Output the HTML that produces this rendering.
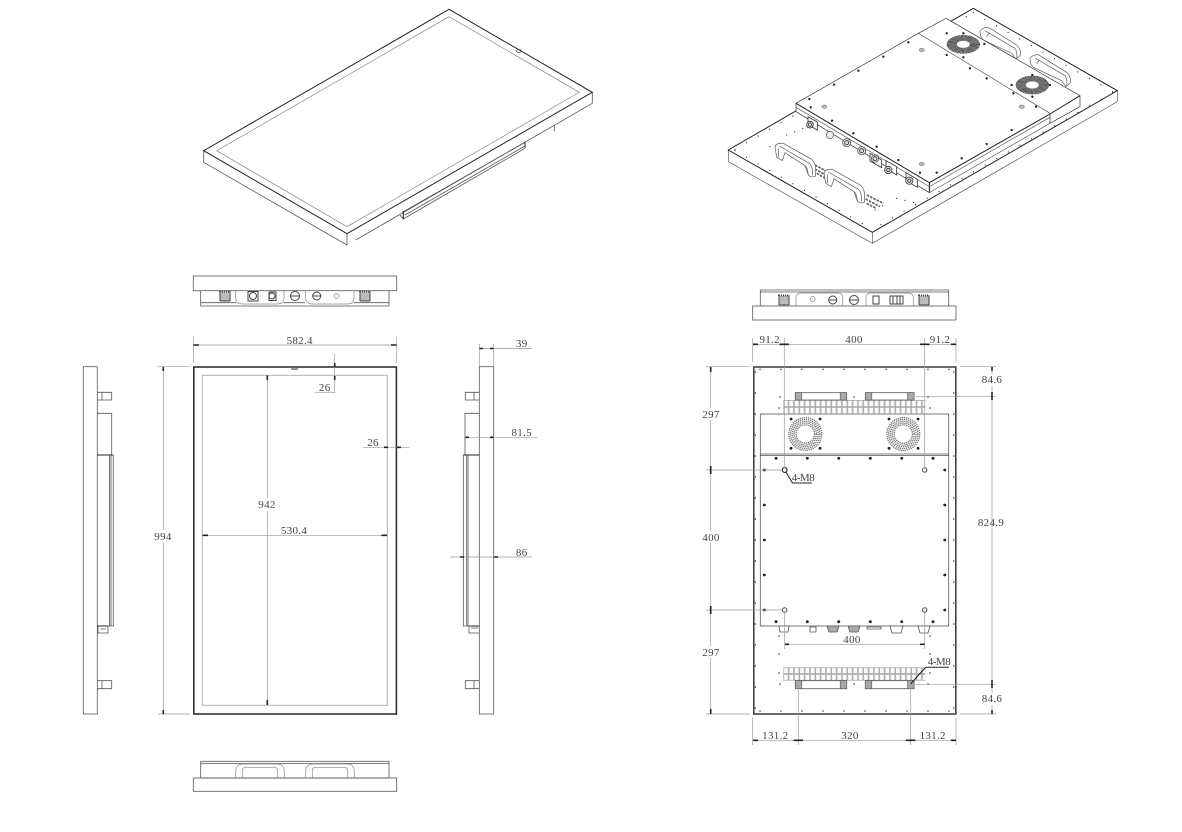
<!DOCTYPE html>
<html><head><meta charset="utf-8"><style>
html,body{margin:0;padding:0;background:#fff}
svg{display:block}
text{font-family:"Liberation Serif",serif;font-size:11px;fill:#444;text-anchor:middle;letter-spacing:.3px}
.o{fill:none;stroke:#555;stroke-width:.8}
.k{fill:none;stroke:#222;stroke-width:1}
.g{fill:none;stroke:#888;stroke-width:.7}
.d{fill:none;stroke:#999;stroke-width:.7}
.a{fill:none;stroke:#222;stroke-width:1.6}
.s{fill:none;stroke:#222;stroke-width:2.8;stroke-linecap:round}
.e{fill:none;stroke:#444;stroke-width:1.6;stroke-linecap:round}
.i{fill:none;stroke:#555;stroke-width:2}
.ik{fill:none;stroke:#222;stroke-width:3}
.id{fill:none;stroke:#333;stroke-width:3.8;stroke-linecap:round}
.h{fill:#fff;stroke:#555;stroke-width:2}
.m{fill:none;stroke:#777;stroke-width:1.3;stroke-dasharray:1.3 .8}
</style></head><body>
<svg width="1182" height="832" viewBox="0 0 1182 832" xmlns="http://www.w3.org/2000/svg">
<defs>
<pattern id="v1" x="783.3" y="400" width="5.33" height="7" patternUnits="userSpaceOnUse"><rect x=".4" y=".4" width="4.5" height="6.2" fill="#fff" stroke="#aaa" stroke-width=".8"/></pattern>
<pattern id="v2" x="783.3" y="667.3" width="5.33" height="6.7" patternUnits="userSpaceOnUse"><rect x=".4" y=".4" width="4.5" height="5.9" fill="#fff" stroke="#aaa" stroke-width=".8"/></pattern>
<g id="hl"><path class="h" d="M165 440Q170 428 190 430L275 478Q287 488 287 510V528Q275 535 265 525L255 497L195 458L187 482L170 472Z"/><path class="i" d="M178 438L268 490Q278 498 278 526M175 445V472M255 497Q262 500 265 525"/></g>
<g id="hu"><path class="h" d="M780 95Q785 82 805 82L890 135Q902 145 902 165L888 178L875 160L790 120Q780 112 780 95Z"/><path class="i" d="M795 92L885 145Q893 155 890 176M800 110L808 98"/></g>
</defs>
<rect width="1182" height="832" fill="#fff"/>

<!-- ISO LEFT -->
<path class="o" d="M203.7 150.7V162.3L347 245V233.7M592.3 92.3V103.3L355.7 240M554.3 125.3V131.3"/>
<path class="o" d="M525 148.3L403.3 219V211.7L525 142.3M525 146L405 215M400 215L403.3 219"/>
<path class="k" d="M525 142V148M403.3 211V219"/>
<path class="k" d="M449 9.3L592.3 92.3L347 233.7L203.7 150.7Z"/>
<path class="g" d="M449 16.7L579.3 92.3L347 226.7L216.7 150.7Z"/>
<ellipse class="o" cx="519" cy="51" rx="2.5" ry="1.5"/>

<!-- ISO RIGHT -->
<g transform="translate(720 0) scale(.33333)">
<path class="i" d="M25 450V485L457 730V697M1192 272V305L457 730"/>
<path class="ik" d="M760 25L1192 272L457 697L25 450Z"/>
<path class="id" stroke-dasharray="0 40" d="M45 452L457 688M45 448L760 38M760 38L1178 275M1178 278L457 688"/>
<use href="#hu"/><use href="#hu" transform="translate(150 82)"/>
<path stroke="#666" stroke-width="5" stroke-dasharray="8 3" fill="none" d="M285 495L345 527M285 507L338 537M290 520L325 540M440 585L490 610M437 597L480 620M440 610L468 625"/>
<use href="#hl"/><use href="#hl" transform="translate(147 78)"/>
<path class="id" stroke-dasharray="0 26" d="M150 440L165 455M200 405L250 385M530 595L590 610M465 630L500 610"/>
<path fill="#fff" stroke="#333" stroke-width="2" d="M678 55L1080 287V320L990 370V342L628 548V578L228 335V310L595 100Z"/>
<path class="ik" d="M228 310L628 548L990 342L1080 287M628 548V578"/>
<path class="i" d="M228 322L628 560L990 352M595 100L990 340V370M228 335L628 578L990 370"/>
<g transform="translate(730 133) scale(1 .56)"><circle r="35" fill="none" stroke="#333" stroke-width="30" stroke-dasharray="2.5 1"/><circle r="20" fill="#fff" stroke="#666" stroke-width="1.5"/></g>
<g transform="translate(937 255) scale(1 .56)"><circle r="35" fill="none" stroke="#333" stroke-width="30" stroke-dasharray="2.5 1"/><circle r="20" fill="#fff" stroke="#666" stroke-width="1.5"/></g>
<path style="fill:none;stroke:#222;stroke-width:7;stroke-linecap:round" d="M565 127h.1M490 170h.1M415 212h.1M342 254h.1M268 297h.1M730 100h.1M793 132h.1M680 165h.1M730 172h.1M750 205h.1M800 235h.1M875 255h.1M937 225h.1M990 255h.1M937 290h.1M880 280h.1M948 320h.1M875 390h.1M800 432h.1M725 475h.1M650 518h.1M272 322h.1M336 362h.1M400 400h.1M470 440h.1M535 480h.1M600 518h.1M680 100h.1"/>
<g fill="#bbb" stroke="#555" stroke-width="1.5">
<ellipse cx="605" cy="150" rx="8" ry="5"/><ellipse cx="313" cy="320" rx="8" ry="5"/><ellipse cx="905" cy="320" rx="8" ry="5"/><ellipse cx="605" cy="492" rx="8" ry="5"/>
</g>
<g fill="#ddd" stroke="#333" stroke-width="2.5">
<path d="M264 350L292 366V390L264 374Z" fill="#fff"/><circle cx="270" cy="374" r="10"/><circle cx="270" cy="374" r="5"/>
<circle cx="330" cy="405" r="11" fill="#eee" stroke="#666"/>
<circle cx="380" cy="428" r="12" stroke-dasharray="3 1"/><circle cx="380" cy="428" r="6"/>
<circle cx="425" cy="452" r="12" stroke-dasharray="3 1"/><circle cx="425" cy="452" r="6"/>
<path d="M450 460L485 480V503L450 483Z" fill="#fff"/><circle cx="465" cy="476" r="11" stroke-dasharray="3 1"/><circle cx="465" cy="476" r="6"/>
<path d="M498 482L530 500V525L498 505Z" fill="#fff"/><circle cx="505" cy="510" r="11"/><circle cx="505" cy="510" r="5"/>
<path d="M558 518L592 538V562L558 542Z" fill="#fff"/><circle cx="568" cy="542" r="11"/><circle cx="568" cy="542" r="5"/>
</g>
</g>

<!-- FRONT TOP VIEW -->
<path class="o" d="M200.7 290.7V306H389V290.7M200.7 302.7H236M284 302.7H305M354 302.7H389"/>
<path class="g" d="M235.7 291V298Q236 304 243 304H277Q284 304 284 298V291M305.7 291V298Q306 304 313 304H347Q354 304 354 298V291"/>
<rect class="o" x="193.3" y="276" width="203.4" height="14.7"/>
<g stroke="#444" fill="#fff" stroke-width="1">
<rect x="220" y="291.5" width="10" height="9.5" fill="#bbb" stroke-dasharray="1 1" stroke-width="2"/><rect x="360" y="291.5" width="10" height="9.5" fill="#bbb" stroke-dasharray="1 1" stroke-width="2"/>
<rect x="248" y="291.5" width="10" height="9.5"/><circle cx="253" cy="296" r="3.5"/>
<rect x="269" y="292" width="7" height="8.5"/><circle cx="272" cy="296" r="3"/>
<circle cx="295" cy="296" r="4.5"/><path d="M291 296h8"/>
<circle cx="316.7" cy="296" r="4"/><path d="M313 296h8"/>
</g>
<circle class="g" cx="336.7" cy="296" r="2.5"/>

<!-- FRONT VIEW -->
<rect x="193.8" y="367" width="202.6" height="347" fill="none" stroke="#333" stroke-width="1.6"/>
<rect x="202.3" y="375.3" width="185" height="330" fill="none" stroke="#aaa" stroke-width=".9"/>
<rect x="291" y="367.5" width="7" height="2.5" fill="#999"/>
<path class="d" d="M193.3 337V363M396.7 337V363M193.3 345H396.7M267.3 375V498M267.3 511V705M202.3 535.3H387.3M163.3 367V530M163.3 543V714M158 366.7H190M158 714H190M334.7 354V392.7H315M363.3 447.3H409.3"/>
<path class="a" d="M193.5 345H199M391 345H396.5M202.5 535.3H208M381.5 535.3H387M267.3 375.5V380M267.3 700V705M163.3 367V371M163.3 710V714M334.7 363V367M334.7 376V380M384 447.3H388M397 447.3H401"/>
<text x="299.7" y="344">582.4</text>
<text x="267" y="508">942</text>
<text x="294" y="534">530.4</text>
<text x="163" y="540">994</text>
<text x="324.7" y="391">26</text>
<text x="373" y="446">26</text>

<!-- LEFT SIDE VIEW -->
<rect class="o" x="83.3" y="366.7" width="14" height="347.3"/>
<path class="o" d="M97.3 392.3H111.7V400H97.3M102 392.3V400M97.3 680.7H111.7V688.7H97.3M102 680.7V688.7M97.3 413.3H111.7V455"/>
<path class="k" d="M97.3 455H113.3M97.3 626H108"/>
<path class="o" d="M113.3 455V626H108M109.5 455V626M111 455V626M98 626V633H108V626M100 629H106"/>

<!-- RIGHT SIDE VIEW -->
<rect class="o" x="479.3" y="366.7" width="14.4" height="347.3"/>
<path class="o" d="M479.3 392.3H465.3V400H479.3M474 392.3V400M479.3 680.7H465.3V688.7H479.3M474 680.7V688.7M479.3 413.3H465V455"/>
<path class="k" d="M463.3 455H479.3M469 626H479.3"/>
<path class="o" d="M463.3 455V626H469M466.7 455V626M468 455V626M469 626V633H479M471 628H478"/>
<path class="d" d="M479.3 344V366M493.7 344V366M479.3 348.5H532M465 437.3H537M450 557H532"/>
<path class="a" d="M479.5 348.5H483M490 348.5H493.5M465.5 437.3H469M490 437.3H493.5M460 557H464M494 557H498"/>
<text x="521.7" y="347">39</text>
<text x="521.7" y="436">81.5</text>
<text x="521.7" y="556">86</text>

<!-- BOTTOM VIEW -->
<rect class="o" x="200.7" y="761.3" width="188.3" height="16.7"/>
<path class="o" d="M200.7 763.5H389"/>
<rect class="o" x="193.3" y="778" width="203.4" height="13.3"/>
<path class="g" d="M235.7 778V771Q236 764 243 764H277Q284 764 284.3 771V778M242.3 778V771Q242.3 767.3 246 767.3H274Q277.7 767.3 277.7 771V778M305.7 778V771Q306 764 313 764H347Q354 764 354.3 771V778M312.3 778V771Q312.3 767.3 316 767.3H344Q347.7 767.3 347.7 771V778"/>

<!-- BACK TOP VIEW -->
<path class="o" d="M760.3 306V290H948.7V306M760.3 292H948.7"/>
<path class="g" d="M796 306V298Q796 293 801 293H838Q842.7 293 842.7 298V306M866 306V298Q866 293 871 293H908Q913.3 293 913.3 298V306"/>
<rect class="o" x="752.7" y="306" width="203.3" height="14"/>
<g stroke="#444" fill="#fff" stroke-width="1">
<rect x="779" y="295.5" width="10" height="9.5" fill="#bbb" stroke-dasharray="1 1" stroke-width="2"/><rect x="919" y="295.5" width="10" height="9.5" fill="#bbb" stroke-dasharray="1 1" stroke-width="2"/>
<circle cx="854" cy="300" r="4.5"/><path d="M850 300h8"/>
<circle cx="832.7" cy="300" r="4"/><path d="M829 300h7"/>
<rect x="873" y="296" width="6" height="8"/><rect x="890" y="296" width="13" height="8"/><path d="M893 296v8M897 296v8M900 296v8"/>
</g>
<circle class="g" cx="812.7" cy="299" r="2.5"/>

<!-- BACK VIEW -->
<rect x="753.8" y="367" width="202" height="347" fill="none" stroke="#444" stroke-width="1.6"/>
<rect class="o" x="760.3" y="414" width="188.4" height="212"/>
<path class="o" d="M760.3 454H948.7M760.3 455.5H948.7"/>
<rect x="783.3" y="400" width="142" height="14" fill="url(#v1)"/>
<rect x="783.3" y="667.3" width="142" height="13.4" fill="url(#v2)"/>
<g fill="#fff" stroke="#555" stroke-width=".8">
<rect x="795.3" y="392.7" width="51.4" height="7.3"/><rect x="865.3" y="392.7" width="48.7" height="7.3"/>
<rect x="795.3" y="680.7" width="51.4" height="8"/><rect x="865.3" y="680.7" width="48.7" height="8"/>
</g>
<g fill="#aaa" stroke="#555" stroke-width=".6">
<rect x="795.3" y="392.7" width="6.5" height="7.3"/><rect x="840.2" y="392.7" width="6.5" height="7.3"/><rect x="865.3" y="392.7" width="6.5" height="7.3"/><rect x="907.5" y="392.7" width="6.5" height="7.3"/>
<rect x="795.3" y="680.7" width="6.5" height="8"/><rect x="840.2" y="680.7" width="6.5" height="8"/><rect x="865.3" y="680.7" width="6.5" height="8"/><rect x="907.5" y="680.7" width="6.5" height="8"/>
</g>
<g class="m"><circle cx="805.3" cy="434" r="9.2"/><circle cx="805.3" cy="434" r="11"/><circle cx="805.3" cy="434" r="12.8"/><circle cx="805.3" cy="434" r="14.6"/><circle cx="805.3" cy="434" r="16.4"/></g>
<g class="m"><circle cx="903.3" cy="434" r="9.2"/><circle cx="903.3" cy="434" r="11"/><circle cx="903.3" cy="434" r="12.8"/><circle cx="903.3" cy="434" r="14.6"/><circle cx="903.3" cy="434" r="16.4"/></g>
<path class="e" stroke-dasharray="0 21" d="M760 369.3H956M760 711H956M755.3 372V711M953.7 372V711"/>
<path class="s" d="M791 419h.1M820 419h.1M791 448.3h.1M820 448.3h.1M889 419h.1M918 419h.1M889 448.3h.1M918 448.3h.1M776 458.3h.1M807.3 458.3h.1M838.7 458.3h.1M870.3 458.3h.1M901.7 458.3h.1M933 458.3h.1M776 621.7h.1M807.3 621.7h.1M838.7 621.7h.1M870.3 621.7h.1M901.7 621.7h.1M933 621.7h.1M764.3 470h.1M944.7 470h.1M764.3 505h.1M944.7 505h.1M764.3 540h.1M944.7 540h.1M764.3 575h.1M944.7 575h.1M764.3 610h.1M944.7 610h.1"/>
<path class="e" d="M780 397h.1M928 397h.1M854 397h.1M779 408h.1M930 408h.1M779 673h.1M930 673h.1M780 684h.1M928 684h.1M854 684h.1M779 636h.1M930 636h.1M779 654h.1M930 654h.1"/>
<circle cx="784.7" cy="470" r="2.4" fill="#fff" stroke="#222" stroke-width="1.1"/>
<circle cx="924.7" cy="470" r="2.2" fill="#fff" stroke="#444"/>
<circle cx="784.7" cy="610" r="2.2" fill="#fff" stroke="#444"/>
<circle cx="924.7" cy="610" r="2.2" fill="#fff" stroke="#444"/>
<g fill="#fff" stroke="#555" stroke-width=".8">
<path d="M779 626H789L788 632H780Z"/><rect x="810" y="627" width="6" height="5"/>
<path d="M827 626H839L837 632H829Z" fill="#aaa"/><path d="M848 626H860L858 632H850Z" fill="#aaa"/>
<path d="M867 627H881V629H867Z"/><path d="M890 626H903L901 633H892Z"/><path d="M918 626H930L928 633H920Z"/>
</g>
<path class="d" d="M752.7 338V362M784.3 338V468M924.7 338V468M956 338V362M752.7 344.3H956M706 366.7H750M960 366.7H996M706 470H782M706 610H782M706 714H750M960 714H996M916 396.3H996M916 684.3H996M710.7 367V408M710.7 420V531M710.7 543V646M710.7 658V714M992 367V374M992 386V693M992 705V714M784.7 613V649M924.7 613V649M784.7 644.3H924.7M752.7 718V745M798.3 684V745M910.7 684V745M956 718V745M752.7 740.3H956"/>
<path class="a" d="M753 344.3H758M779.5 344.3H789M920 344.3H929.5M951 344.3H956M710.7 367V372M710.7 466V474M710.7 606V614M710.7 709V714M992 367V371M992 392V400M992 680V688M992 710V714M785 644.3H789M920 644.3H924.5M753 740.3H758M793.5 740.3H803M906 740.3H915.5M951 740.3H956"/>
<path class="k" d="M786 472L792.5 483H812"/>
<path class="k" d="M910.5 684L925.7 667.3H949"/>
<text x="769.7" y="343">91.2</text>
<text x="854" y="343">400</text>
<text x="940" y="343">91.2</text>
<text x="711" y="418">297</text>
<text x="711" y="541">400</text>
<text x="711" y="656">297</text>
<text x="992" y="383">84.6</text>
<text x="991" y="526">824.9</text>
<text x="992" y="702">84.6</text>
<text x="803" y="481" style="letter-spacing:-.5px">4-M8</text>
<text x="939" y="665" style="letter-spacing:-.5px">4-M8</text>
<text x="852" y="643">400</text>
<text x="775.3" y="739">131.2</text>
<text x="850" y="739">320</text>
<text x="932.7" y="739">131.2</text>
</svg>
</body></html>
